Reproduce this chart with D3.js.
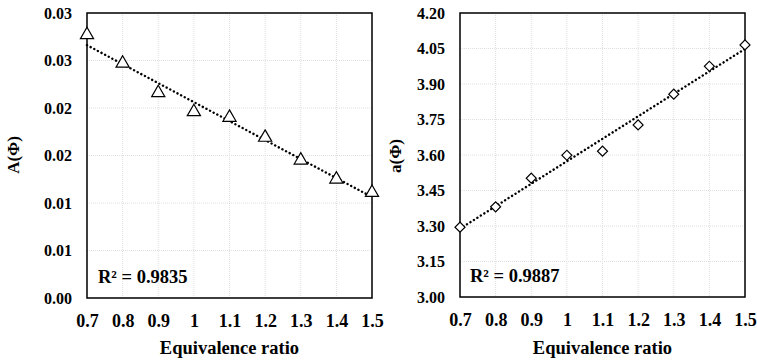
<!DOCTYPE html>
<html><head><meta charset="utf-8">
<script src="https://cdn.jsdelivr.net/npm/d3@7"></script>
</head><body style="margin:0;background:#fff"><svg id="c" width="757" height="360" style="display:block"></svg>
<script>
const phi = [0.7, 0.8, 0.9, 1.0, 1.1, 1.2, 1.3, 1.4, 1.5];
const A_vals = [0.0277, 0.0247, 0.0216, 0.0196, 0.0190, 0.0169, 0.0145, 0.0125, 0.0111];
const a_vals = [3.295, 3.381, 3.502, 3.599, 3.616, 3.727, 3.857, 3.975, 4.065];
const xTicks = [0.7, 0.8, 0.9, 1.0, 1.1, 1.2, 1.3, 1.4, 1.5];
const xTickLabels = ["0.7","0.8","0.9","1","1.1","1.2","1.3","1.4","1.5"];
const A_ticks = [0, 0.005, 0.01, 0.015, 0.02, 0.025, 0.03];
const A_tickLabels = ["0.00","0.01","0.01","0.02","0.02","0.03","0.03"];
const a_ticks = [3.00, 3.15, 3.30, 3.45, 3.60, 3.75, 3.90, 4.05, 4.20];
const a_tickLabels = ["3.00","3.15","3.30","3.45","3.60","3.75","3.90","4.05","4.20"];
const A_r2 = "R² = 0.9835", a_r2 = "R² = 0.9887";

const svg = d3.select("#c");

function styleText(sel, size){
  sel.attr("font-family", null).attr("font-size", null)
     .attr("style", `font-family:'Liberation Serif';font-weight:bold;font-size:${size}px;fill:#000`);
}

function linfit(xs, ys){
  const n=xs.length, mx=d3.mean(xs), my=d3.mean(ys);
  let sxy=0,sxx=0; for(let i=0;i<n;i++){sxy+=(xs[i]-mx)*(ys[i]-my);sxx+=(xs[i]-mx)**2;}
  const b=sxy/sxx; return x=>my+b*(x-mx);
}

function panel(o){
  const g = svg.append("g");
  const x = d3.scaleLinear().domain([0.7,1.5]).range([o.x0,o.x1]);
  const y = d3.scaleLinear().domain(o.ydom).range([o.y1,o.y0]);
  g.selectAll(".vg").data(xTicks).enter().append("line")
    .attr("x1",d=>x(d)).attr("x2",d=>x(d)).attr("y1",o.y0).attr("y2",o.y1)
    .attr("stroke","#dedede").attr("stroke-width",1).attr("stroke-dasharray","1,1");
  g.selectAll(".hg").data(o.ticks).enter().append("line")
    .attr("x1",o.x0).attr("x2",o.x1).attr("y1",d=>y(d)).attr("y2",d=>y(d))
    .attr("stroke","#dedede").attr("stroke-width",1).attr("stroke-dasharray","1,1");
  const xa = d3.axisBottom(x).tickValues(xTicks).tickSize(0).tickPadding(16)
    .tickFormat((d,i)=>xTickLabels[i]);
  const xg = g.append("g").attr("transform",`translate(0,${o.y1})`).call(xa);
  xg.attr("font-family",null).attr("font-size",null);
  xg.select(".domain").remove();
  styleText(xg.selectAll("text"),18);
  const ya = d3.axisLeft(y).tickValues(o.ticks).tickSize(0).tickPadding(15).tickFormat((d,i)=>o.labels[i]);
  const yg = g.append("g").attr("transform",`translate(${o.x0},0)`).call(ya);
  yg.attr("font-family",null).attr("font-size",null);
  yg.select(".domain").remove();
  styleText(yg.selectAll("text"),16);
  g.append("rect").attr("x",o.x0).attr("y",o.y0).attr("width",o.x1-o.x0).attr("height",o.y1-o.y0)
    .attr("fill","none").attr("stroke","#000").attr("stroke-width",1.5);
  const f = linfit(phi,o.vals);
  g.append("line").attr("x1",x(0.7)).attr("y1",y(f(0.7))).attr("x2",x(1.5)).attr("y2",y(f(1.5)))
    .attr("stroke","#000").attr("stroke-width",2.4).attr("stroke-dasharray","0.1,4").attr("stroke-linecap","round");
  const sym = d3.symbol().type(o.sym).size(o.symSize);
  g.selectAll(".m").data(phi).enter().append("path")
    .attr("d",sym).attr("transform",(d,i)=>`translate(${x(d)},${y(o.vals[i])})${o.rot?" rotate(45)":""}`)
    .attr("fill","#fff").attr("stroke","#000").attr("stroke-width",1.2);
  styleText(g.append("text").attr("x",o.x0+o.r2dx).attr("y",o.r2y).text(o.r2),18.5);
  styleText(g.append("text").attr("x",(o.x0+o.x1)/2).attr("y",354).attr("text-anchor","middle").text("Equivalence ratio"),18.5);
  styleText(g.append("text").attr("transform",`translate(${o.tx},${o.ty}) rotate(-90)`).attr("text-anchor","middle")
    .attr("dy","0.35em").text(o.title),17);
}

panel({x0:87,x1:372,y0:13,y1:298,ydom:[0,0.03],ticks:A_ticks,labels:A_tickLabels,vals:A_vals,sym:d3.symbolTriangle,symSize:75,rot:false,r2:A_r2,r2dx:11,r2y:283,title:"A(Φ)",tx:13,ty:155});
panel({x0:460,x1:745,y0:13,y1:297,ydom:[3.0,4.2],ticks:a_ticks,labels:a_tickLabels,vals:a_vals,sym:d3.symbolSquare,symSize:50,rot:true,r2:a_r2,r2dx:10,r2y:282,title:"a(Φ)",tx:395,ty:156});
</script></body></html>
